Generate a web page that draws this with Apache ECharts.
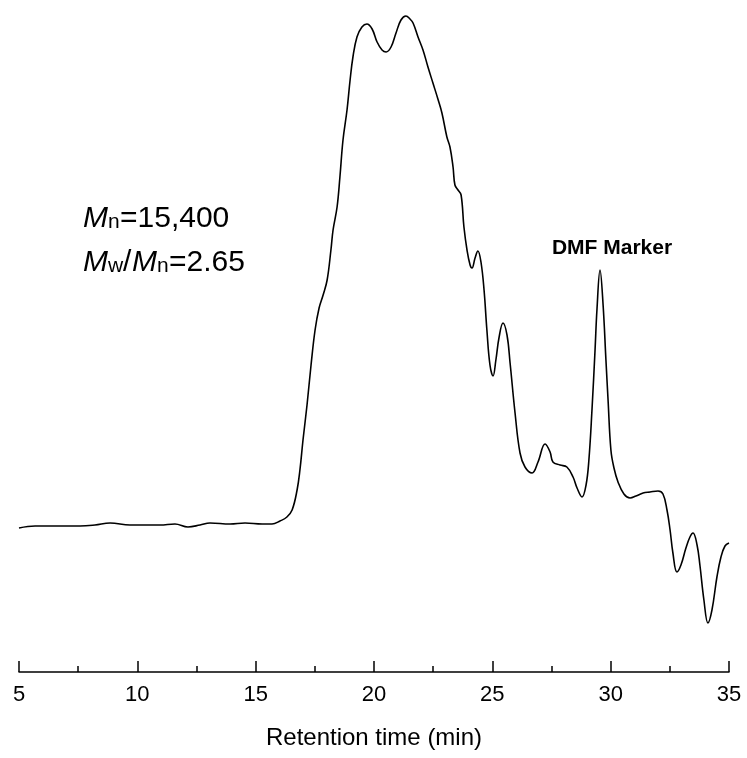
<!DOCTYPE html>
<html>
<head>
    <meta charset="utf-8">
    <script src="https://cdn.jsdelivr.net/npm/echarts@6/dist/echarts.min.js"></script>
    <style>
        html, body { margin: 0; padding: 0; background: #fff; }
    </style>
</head>
<body>
    <div id="main" style="width: 747px;height:758px;"></div>

    <script type="text/javascript">
        // retention time (min)
        var times = [
            5.00, 5.68, 6.73, 7.58, 8.21, 8.85, 9.69, 10.96, 11.59, 12.14,
            12.65, 13.07, 13.92, 14.55, 15.27, 15.69, 16.03, 16.32, 16.54, 16.75,
            16.87, 17.00, 17.17, 17.34, 17.51, 17.68, 17.85, 18.02, 18.18, 18.27,
            18.44, 18.56, 18.69, 18.86, 18.99, 19.11, 19.28, 19.49, 19.70, 19.92,
            20.13, 20.34, 20.51, 20.72, 20.93, 21.14, 21.35, 21.52, 21.65, 21.86,
            22.07, 22.28, 22.49, 22.70, 22.87, 23.08, 23.21, 23.34, 23.42, 23.55,
            23.68, 23.80, 23.93, 24.06, 24.14, 24.27, 24.39, 24.52, 24.65, 24.77,
            24.90, 25.03, 25.15, 25.28, 25.45, 25.62, 25.75, 25.96, 26.17, 26.38,
            26.68, 26.93, 27.23, 27.44, 27.56, 27.86, 28.15, 28.41, 28.58, 28.79,
            28.96, 29.08, 29.21, 29.34, 29.42, 29.55, 29.68, 29.80, 29.89, 30.01,
            30.14, 30.31, 30.56, 30.82, 31.07, 31.37, 31.66, 32.00, 32.21, 32.38,
            32.51, 32.63, 32.80, 32.97, 33.18, 33.35, 33.48, 33.65, 33.77, 33.94,
            34.11, 34.28, 34.49, 34.66, 34.83, 35.00
        ];
        // detector signal (arb. units)
        var signal = [
            0.0, 0.4, 0.4, 0.4, 0.6, 1.0, 0.6, 0.6, 0.8, 0.2,
            0.6, 1.0, 0.8, 1.0, 0.8, 0.8, 1.4, 2.2, 3.6, 7.6,
            11.6, 17.6, 24.6, 32.6, 39.6, 44.0, 46.6, 49.6, 55.6, 59.6,
            64.2, 70.2, 77.6, 83.6, 89.6, 94.2, 98.2, 100.2, 100.8, 99.8,
            97.2, 95.6, 95.2, 96.2, 99.0, 101.6, 102.4, 101.8, 101.0, 98.2,
            95.6, 92.2, 89.0, 85.8, 83.0, 78.2, 76.2, 72.2, 68.6, 67.6,
            66.6, 60.2, 55.6, 52.6, 52.0, 54.0, 55.4, 53.2, 47.6, 39.6,
            32.6, 30.4, 33.6, 38.0, 41.0, 38.6, 33.0, 23.0, 15.0, 12.2,
            11.0, 13.2, 16.8, 15.2, 13.2, 12.6, 12.2, 10.2, 8.0, 6.2,
            8.6, 13.6, 23.6, 35.6, 43.6, 51.6, 44.6, 33.6, 25.6, 15.6,
            12.0, 9.2, 6.8, 6.0, 6.4, 7.0, 7.2, 7.4, 6.8, 3.6,
            -0.4, -5.0, -8.8, -7.4, -4.0, -1.8, -1.0, -3.4, -7.4, -14.4,
            -19.0, -16.4, -9.8, -5.8, -3.6, -3.0
        ];
        var xTicks = [5, 10, 15, 20, 25, 30, 35];

        var font = '"Liberation Sans", Arial, sans-serif';

        var traceData = [];
        for (var i = 0; i < times.length; i++) {
            traceData.push([times[i], signal[i]]);
        }

        var myChart = echarts.init(document.getElementById('main'));

        // M_n / M_w text, subscripts done by hand
        function txt(x, y, s, size, italic, weight) {
            return {
                type: 'text',
                x: x,
                y: y,
                style: {
                    text: s,
                    font: (italic ? 'italic ' : '') + (weight || 'normal') + ' ' + size + 'px ' + font,
                    fill: '#000',
                    verticalAlign: 'alphabetic'
                }
            };
        }

        var option = {
            animation: false,
            grid: {
                left: 19,
                right: 18,
                top: 10,
                bottom: 86,
                containLabel: false,
                outerBoundsMode: 'none'
            },
            xAxis: {
                type: 'value',
                min: xTicks[0],
                max: xTicks[xTicks.length - 1],
                interval: 5,
                name: 'Retention time (min)',
                nameLocation: 'middle',
                nameGap: 54,
                nameTextStyle: { fontFamily: font, fontSize: 24, color: '#000' },
                axisLine: { onZero: false, lineStyle: { color: '#000', width: 1.5 } },
                axisTick: { inside: true, length: 11, lineStyle: { color: '#000', width: 1.5 } },
                minorTick: { show: true, splitNumber: 2, length: 6, lineStyle: { color: '#000', width: 1.5 } },
                axisLabel: { fontFamily: font, fontSize: 22, color: '#000', margin: 12 },
                splitLine: { show: false }
            },
            yAxis: {
                type: 'value',
                min: -28.8,
                max: 103.6,
                show: false
            },
            graphic: [
                txt(83, 204, 'M', 30, true),
                txt(108, 212, 'n', 21),
                txt(120, 204, '=15,400', 30),
                txt(83, 248, 'M', 30, true),
                txt(108, 256, 'w', 21),
                txt(123, 248, '/', 30),
                txt(132, 248, 'M', 30, true),
                txt(157, 256, 'n', 21),
                txt(169, 248, '=2.65', 30),
                {
                    type: 'text',
                    x: 612,
                    y: 248,
                    style: {
                        text: 'DMF Marker',
                        font: 'bold 21px ' + font,
                        fill: '#000',
                        align: 'center',
                        verticalAlign: 'middle'
                    }
                }
            ],
            series: [{
                type: 'line',
                data: traceData,
                smooth: 0.4,
                showSymbol: false,
                lineStyle: { color: '#000', width: 1.6 }
            }]
        };

        myChart.setOption(option);
    </script>
</body>
</html>
